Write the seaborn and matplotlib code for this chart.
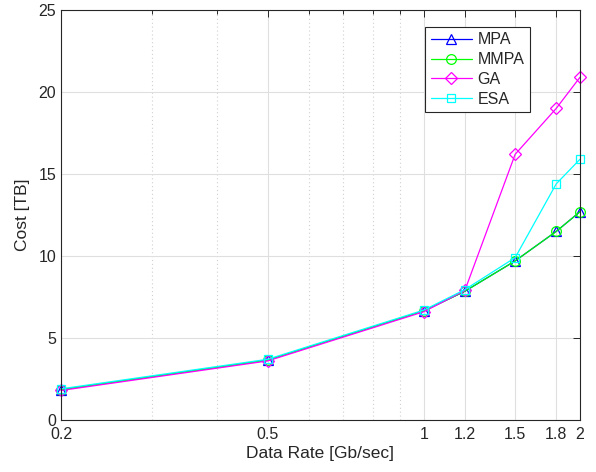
import matplotlib
matplotlib.use("Agg")
import matplotlib.pyplot as plt
import seaborn as sns
import pandas as pd
from matplotlib.ticker import FixedLocator, NullFormatter

rates = [0.2, 0.5, 1.0, 1.2, 1.5, 1.8, 2.0]
mpa = [1.85, 3.65, 6.65, 7.85, 9.7, 11.5, 12.7]
mmpa = [1.85, 3.65, 6.65, 7.85, 9.7, 11.5, 12.7]
ga = [1.8, 3.6, 6.6, 7.9, 16.2, 19.0, 20.9]
esa = [1.9, 3.7, 6.7, 7.95, 9.9, 14.4, 15.9]
xticks = [0.2, 0.5, 1, 1.2, 1.5, 1.8, 2]
xtick_labels = ["0.2", "0.5", "1", "1.2", "1.5", "1.8", "2"]
minor_xticks = [0.3, 0.4, 0.6, 0.7, 0.8, 0.9]
yticks = [0, 5, 10, 15, 20, 25]

sns.set_style("white")
plt.rcParams['font.family'] = ['Liberation Sans', 'DejaVu Sans']

fig = plt.figure(figsize=(5.96, 4.72), dpi=100)
ax = fig.add_axes([61/596, 52/472, 519/596, 410/472])

series = [("MPA", mpa, (0, 0, 1), "^", 7.5),
          ("MMPA", mmpa, (0, 1, 0), "o", 7),
          ("GA", ga, (1, 0, 1), "D", 6.5),
          ("ESA", esa, (0, 1, 1), "s", 6)]
for name, vals, col, mk, ms in series:
    df = pd.DataFrame({"rate": rates, "cost": vals})
    sns.lineplot(data=df, x="rate", y="cost", ax=ax, color=col, marker=mk,
                 markersize=ms, markerfacecolor="none", markeredgecolor=col,
                 markeredgewidth=0.9, linewidth=0.9, label=name, clip_on=False)

ax.set_xscale("log")
ax.set_xlim(0.2, 2)
ax.set_ylim(0, 25)
ax.xaxis.set_major_locator(FixedLocator(xticks))
ax.set_xticklabels(xtick_labels)
ax.xaxis.set_minor_locator(FixedLocator(minor_xticks))
ax.xaxis.set_minor_formatter(NullFormatter())
ax.set_yticks(yticks)

ax.grid(True, which="major", color="#dfdfdf", linewidth=0.8, linestyle="-")
ax.grid(True, which="minor", axis="x", color="#d0d0d0", linewidth=0.8, linestyle=(0, (1, 2.5)))
ax.set_axisbelow(True)

for s in ax.spines.values():
    s.set_color("#262626")
    s.set_linewidth(0.8)
ax.tick_params(axis="both", which="both", direction="in", top=True, right=True,
               colors="#262626", labelsize=11.5, width=0.7)
ax.tick_params(axis="both", which="major", length=5)
ax.tick_params(axis="x", which="minor", length=3)
ax.tick_params(axis="x", which="major", pad=5)

ax.set_xlabel("Data Rate [Gb/sec]", fontsize=12.5, color="#262626", labelpad=3)
ax.set_ylabel("Cost [TB]", fontsize=12.5, color="#262626", labelpad=6)

leg = ax.legend(loc="upper right", bbox_to_anchor=(0.904, 0.959), fontsize=11.5,
                frameon=True, fancybox=False, framealpha=1, edgecolor="#262626",
                handlelength=2.6, borderpad=0.35, labelspacing=0.3, handletextpad=0.35,
                borderaxespad=0)
leg.get_frame().set_linewidth(0.8)

fig.savefig("out.png", dpi=100)
